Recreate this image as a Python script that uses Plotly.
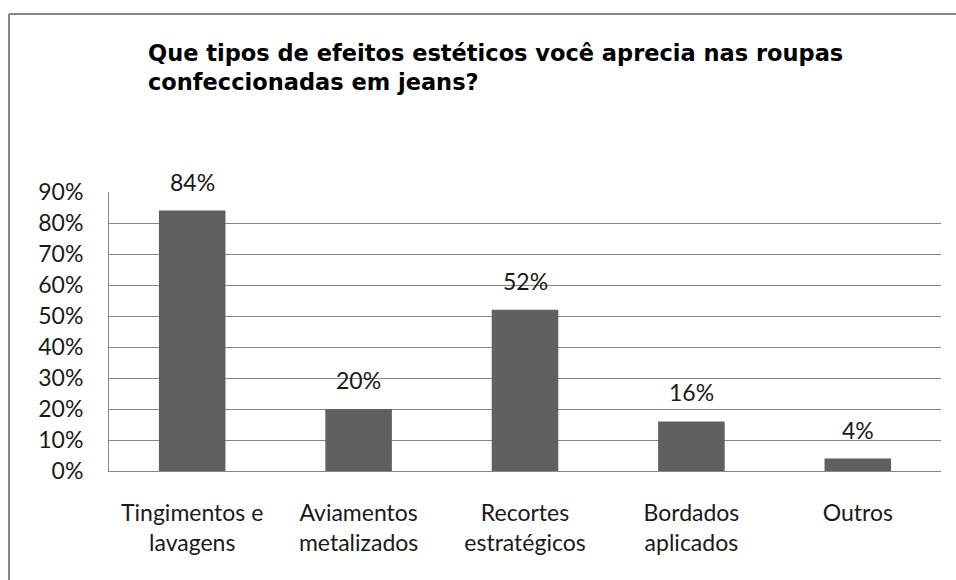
import plotly.graph_objects as go

categories = ["Tingimentos e<br>lavagens", "Aviamentos<br>metalizados", "Recortes<br>estratégicos", "Bordados<br>aplicados", "Outros"]
values = [0.84, 0.20, 0.52, 0.16, 0.04]
value_labels = ["84%", "20%", "52%", "16%", "4%"]
title_text = "Que tipos de efeitos estéticos você aprecia nas roupas<br>confeccionadas em jeans?"
tick_vals = [0, 0.1, 0.2, 0.3, 0.4, 0.5, 0.6, 0.7, 0.8, 0.9]
tick_text = ["0%", "10%", "20%", "30%", "40%", "50%", "60%", "70%", "80%", "90%"]

W, H = 956, 580
ml, mr, mt, mb = 109, 15, 192, 109
pw = W - ml - mr
ph = H - mt - mb

fig = go.Figure()
fig.add_trace(go.Bar(x=categories, y=values, marker=dict(color="#606060", line=dict(width=0)),
                     width=0.4, hoverinfo="skip"))

annotations = []
for c, v, t in zip(categories, values, value_labels):
    annotations.append(dict(x=c, y=v, xref="x", yref="y", text=t, showarrow=False,
                            yanchor="bottom", yshift=13,
                            font=dict(family="Lato", size=23, color="#1a1a1a")))
bold_title = "<b>" + title_text.replace("<br>", "</b><br><b>") + "</b>"
annotations.append(dict(x=(146 - ml) / pw, y=(H - mb - 38) / ph, xref="paper", yref="paper",
                        text=bold_title, showarrow=False, xanchor="left", yanchor="top",
                        align="left", font=dict(family="DejaVu Sans", size=22.5, color="#000000")))

# outer chart border (top and left edges visible)
x_left = (9 - ml) / pw
y_top = (H - mb - 14) / ph
y_bot = (H - mb - H - 5) / ph
x_right = (W + 5 - ml) / pw
shapes = [
    dict(type="line", xref="paper", yref="paper", x0=x_left, x1=x_right, y0=y_top, y1=y_top,
         line=dict(color="#878787", width=2)),
    dict(type="line", xref="paper", yref="paper", x0=x_left, x1=x_left, y0=y_bot, y1=y_top,
         line=dict(color="#878787", width=2)),
]

fig.update_layout(
    width=W, height=H,
    margin=dict(l=ml, r=mr, t=mt, b=mb),
    paper_bgcolor="white", plot_bgcolor="white",
    showlegend=False,
    bargap=0.6,
    annotations=annotations,
    shapes=shapes,
    xaxis=dict(showgrid=False, showline=True, linecolor="#878787", linewidth=1,
               ticks="outside", ticklen=21, tickcolor="rgba(0,0,0,0)",
               tickfont=dict(family="Lato", size=23, color="#1a1a1a"), fixedrange=True),
    yaxis=dict(range=[0, 0.9], tickvals=tick_vals, ticktext=tick_text,
               showgrid=True, gridcolor="#878787", gridwidth=1,
               showline=True, linecolor="#878787", linewidth=1, zeroline=False,
               ticks="outside", ticklen=20, tickcolor="rgba(0,0,0,0)",
               tickfont=dict(family="Lato", size=23, color="#1a1a1a"), fixedrange=True),
)

fig.write_html("out.html", config={"displayModeBar": False},
               post_script="document.body.style.margin='0';document.body.style.overflow='hidden';")
